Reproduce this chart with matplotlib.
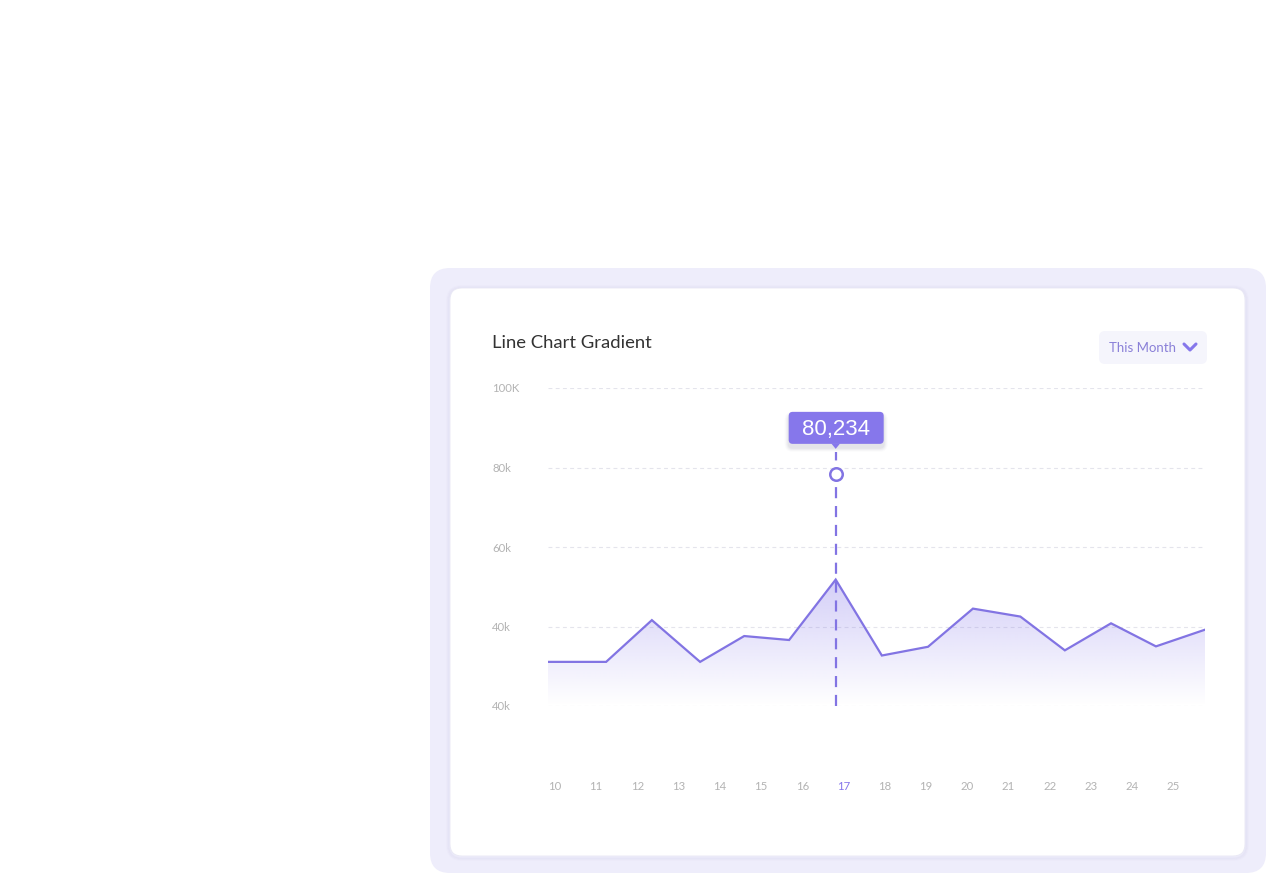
import matplotlib
matplotlib.use("Agg")
import matplotlib.pyplot as plt
import numpy as np
from matplotlib.patches import FancyBboxPatch, Polygon

# ---- data ----
days_x = [9.83, 11.24, 12.35, 13.52, 14.59, 15.68, 16.81, 17.93, 19.05,
          20.14, 21.29, 22.37, 23.49, 24.58, 25.77]
values = [31.1, 31.1, 41.6, 31.1, 37.6, 36.6, 51.8, 32.7, 34.9,
          44.5, 42.5, 34.0, 40.8, 35.0, 39.2]
tick_days = list(range(10, 26))
tick_labels = [str(d) for d in tick_days]
highlight_day = "17"
y_ticks = [20, 40, 60, 80, 100]
y_tick_labels = ["40k", "40k", "60k", "80k", "100K"]
marker_x = 16.81
marker_y = 78.4
tooltip_text = "80,234"
title = "Line Chart Gradient"
dropdown_text = "This Month"

W, H = 1266, 874
fig = plt.figure(figsize=(W / 100, H / 100), dpi=100)
fig.patch.set_facecolor("white")

def px(x0, y0, x1, y1):
    return [x0 / W, 1 - y1 / H, (x1 - x0) / W, (y1 - y0) / H]

# background layer
bg = fig.add_axes([0, 0, 1, 1])
bg.set_xlim(0, W)
bg.set_ylim(H, 0)
bg.axis("off")
bg.add_patch(FancyBboxPatch((430, 268), 836, 605, boxstyle="round,pad=0,rounding_size=20",
                            fc="#EEEDFB", ec="none"))
# card shadow
for i, a in enumerate([0.045, 0.03, 0.02]):
    d = i + 1
    bg.add_patch(FancyBboxPatch((450 - d, 288 - d + 1), 795 + 2 * d, 568 + 2 * d,
                                boxstyle="round,pad=0,rounding_size=%d" % (12 + d),
                                fc="none", ec=(0.45, 0.42, 0.7, a), lw=1.2))
bg.add_patch(FancyBboxPatch((450, 288), 795, 568, boxstyle="round,pad=0,rounding_size=12",
                            fc="white", ec="#E8E7F4", lw=0.6))
bg.text(492, 342.5, title, fontsize=13.3, family="Lato", color="#333333", va="center", ha="left")
# dropdown
bg.add_patch(FancyBboxPatch((1099, 331), 108, 33, boxstyle="round,pad=0,rounding_size=6",
                            fc="#F5F5FC", ec="none"))
bg.text(1109, 347.5, dropdown_text, fontsize=9.5, family="Lato", color="#8A80D8",
        va="center", ha="left")
bg.plot([1184, 1190, 1196], [344, 350, 344], color="#8677EB", lw=2.2,
        solid_capstyle="round", solid_joinstyle="round")

# chart axes
ax = fig.add_axes(px(548, 388, 1205, 706))
ax.patch.set_alpha(0)
for s in ax.spines.values():
    s.set_visible(False)
ax.set_yticks(y_ticks)
ax.set_yticklabels(y_tick_labels)
for y in y_ticks:
    ax.axhline(y, color="#E4E4EC", lw=0.8, ls=(0, (3.5, 3)), zorder=1)
ax.tick_params(axis="y", length=0, pad=40.3, labelsize=8.2, labelcolor="#B3B3B3")
for lab in ax.get_yticklabels():
    lab.set_horizontalalignment("left")
    lab.set_family("Lato")
ax.set_xticks(tick_days)
ax.set_xticklabels(tick_labels)
ax.tick_params(axis="x", length=0, pad=54, labelsize=8.2, labelcolor="#B3B3B3")
for lab in ax.get_xticklabels():
    lab.set_family("Lato")
    if lab.get_text() == highlight_day:
        lab.set_color("#8677EB")

# gradient fill
verts = [(days_x[0], 20)] + list(zip(days_x, values)) + [(days_x[-1], 20)]
poly = Polygon(verts, closed=True, fc="none", ec="none")
ax.add_patch(poly)
grad = np.zeros((256, 2, 4))
c = np.array([134, 120, 235]) / 255.0
grad[..., :3] = c
grad[..., 3] = np.linspace(0.0, 0.36, 256)[:, None]
im = ax.imshow(grad, extent=[days_x[0], days_x[-1], 20, 52], origin="lower",
               aspect="auto", zorder=2, interpolation="bicubic")
im.set_clip_path(poly)
ax.set_xlim(days_x[0], days_x[-1])
ax.set_ylim(20, 100)

ax.plot(days_x, values, color="#8274E3", lw=1.6, zorder=4, solid_joinstyle="miter")

# vertical dashed marker line
ax.plot([marker_x, marker_x], [20, 83.8], color="#8274E3", lw=1.6,
        ls=(0, (5, 3.5)), zorder=5, clip_on=False)
ax.plot([marker_x], [marker_y], marker="o", ms=9, mfc="white", mec="#8274E3",
        mew=1.8, zorder=6, clip_on=False)

# tooltip (in background pixel coords, positioned from marker)
disp = ax.transData.transform((marker_x, marker_y))
mx = disp[0]
my = H - disp[1]
bx0, bw, bh = mx - 47, 95, 32
by0 = my - 62
for i, a in enumerate([0.05, 0.04, 0.03, 0.02]):
    d = 2 * (i + 1)
    bg.add_patch(FancyBboxPatch((bx0 - d / 2, by0 - d / 2 + 4), bw + d, bh + d,
                                boxstyle="round,pad=0,rounding_size=%d" % (4 + d / 2),
                                fc=(0.3, 0.3, 0.4, a), ec="none", zorder=9))
bg.add_patch(FancyBboxPatch((bx0, by0), bw, bh, boxstyle="round,pad=0,rounding_size=4",
                            fc="#8677EB", ec="none", zorder=10))
bg.add_patch(Polygon([(mx - 4.5, by0 + bh - 0.5), (mx + 4.5, by0 + bh - 0.5), (mx, by0 + bh + 5)],
                     closed=True, fc="#8677EB", ec="none", zorder=10))
bg.text(mx, by0 + bh / 2 + 1.5, tooltip_text, fontsize=16, family="Liberation Sans",
        color="white", ha="center", va="center", zorder=11)

fig.savefig("out.png", dpi=100)
